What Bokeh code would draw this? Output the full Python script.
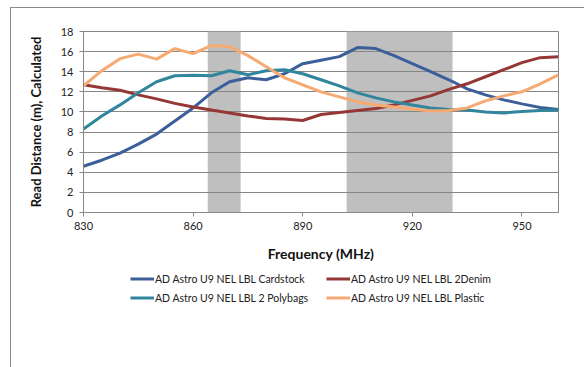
from bokeh.plotting import figure
from bokeh.models import Legend, LegendItem, FixedTicker, ColumnDataSource
from bokeh.layouts import column
from bokeh.embed import file_html
from bokeh.resources import INLINE

freq = [830, 835, 840, 845, 850, 855, 860, 865, 870, 875, 880, 885, 890, 895,
        900, 905, 910, 915, 920, 925, 930, 935, 940, 945, 950, 955, 960]

cardstock = [4.6, 5.2, 5.9, 6.8, 7.8, 9.1, 10.4, 11.9, 13.0, 13.4, 13.2, 13.8, 14.8, 15.15,
             15.5, 16.4, 16.3, 15.6, 14.8, 14.0, 13.2, 12.3, 11.7, 11.2, 10.8, 10.45, 10.25]
denim = [12.7, 12.4, 12.15, 11.7, 11.3, 10.85, 10.5, 10.2, 9.9, 9.6, 9.35, 9.3, 9.15, 9.75,
         9.95, 10.15, 10.35, 10.7, 11.15, 11.6, 12.25, 12.8, 13.5, 14.2, 14.9, 15.4, 15.5]
polybags = [8.3, 9.6, 10.7, 11.9, 13.0, 13.6, 13.65, 13.6, 14.1, 13.7, 14.1, 14.2, 13.8, 13.2,
            12.6, 11.9, 11.4, 11.0, 10.7, 10.4, 10.25, 10.2, 10.0, 9.9, 10.05, 10.15, 10.2]
plastic = [12.6, 14.1, 15.3, 15.75, 15.25, 16.3, 15.8, 16.6, 16.5, 15.6, 14.5, 13.4, 12.7, 12.0,
           11.5, 11.0, 10.7, 10.5, 10.3, 10.1, 10.15, 10.4, 11.1, 11.6, 12.0, 12.8, 13.7]

series_names = ["AD Astro U9 NEL LBL Cardstock", "AD Astro U9 NEL LBL 2Denim",
                "AD Astro U9 NEL LBL 2 Polybags", "AD Astro U9 NEL LBL Plastic"]
series_colors = ["#3C5F9A", "#953735", "#31859C", "#F7A972"]

band_start = [864, 902]
band_end = [873, 931]

x_ticks = [830, 860, 890, 920, 950]
y_ticks = [0, 2, 4, 6, 8, 10, 12, 14, 16, 18]

FONT = "Lato"
GRID = "#878787"
series = [cardstock, denim, polybags, plastic]

# ---------------- main chart ----------------
p = figure(width=573, height=260, x_range=(830, 960), y_range=(0, 18),
           output_backend="svg", toolbar_location=None,
           min_border_left=72, min_border_right=26, min_border_top=23, min_border_bottom=56)

p.background_fill_color = "white"
p.border_fill_color = "white"
p.outline_line_color = GRID
p.outline_line_width = 1

# shaded bands (below grid)
p.quad(left=band_start, right=band_end, bottom=0, top=18, fill_color="#BFBFBF",
       line_color=None, level="image")

p.xgrid.visible = False
p.ygrid.grid_line_color = GRID
p.ygrid.grid_line_width = 1
p.ygrid.ticker = FixedTicker(ticks=y_ticks)

p.xaxis.ticker = FixedTicker(ticks=x_ticks)
p.yaxis.ticker = FixedTicker(ticks=y_ticks)
for ax in (p.xaxis, p.yaxis):
    ax.axis_line_color = GRID
    ax.major_tick_line_color = GRID
    ax.minor_tick_line_color = None
    ax.major_tick_in = 0
    ax.major_tick_out = 4
    ax.major_label_text_font = FONT
    ax.major_label_text_font_size = "11px"
    ax.major_label_text_color = "#222222"
    ax.axis_label_text_font = FONT
    ax.axis_label_text_font_style = "bold"
    ax.axis_label_text_color = "#111111"

p.xaxis.axis_label = "Frequency (MHz)"
p.xaxis.axis_label_text_font_size = "14px"
p.xaxis.major_label_standoff = 5
p.xaxis.axis_label_standoff = 12
p.yaxis.axis_label = "Read Distance (m), Calculated"
p.yaxis.axis_label_text_font_size = "13px"
p.yaxis.major_label_standoff = 6
p.yaxis.axis_label_standoff = 14

for ys, c in zip(series, series_colors):
    src = ColumnDataSource(dict(x=freq, y=ys))
    p.line("x", "y", source=src, line_color=c, line_width=3, line_join="round")

# ---------------- legend strip (frame aligned with the chart above) ----------------
p2 = figure(width=573, height=99, x_range=(0, 1), y_range=(0, 1),
            output_backend="svg", toolbar_location=None,
            x_axis_location=None, y_axis_location=None,
            min_border=0, min_border_left=0, min_border_right=0,
            min_border_top=0, min_border_bottom=0)
p2.outline_line_color = None
p2.grid.visible = False
p2.background_fill_color = "white"
p2.border_fill_color = "white"

# same series, outside this strip's range: only their legend swatches show
swatches = []
for ys, c in zip(series, series_colors):
    swatches.append(p2.line(x=freq, y=ys, line_color=c, line_width=3))

def make_legend(idx, loc):
    return Legend(items=[LegendItem(label=series_names[i], renderers=[swatches[i]]) for i in idx],
                  location=loc, orientation="vertical",
                  padding=0, margin=0, spacing=0,
                  label_height=19, glyph_height=19, glyph_width=24, label_standoff=1,
                  border_line_alpha=0, background_fill_alpha=0,
                  label_text_font=FONT, label_text_font_size="10.5px", label_text_color="#222222")

p2.add_layout(make_legend([0, 2], (47, 60)), "center")
p2.add_layout(make_legend([1, 3], (243, 60)), "center")

layout = column(p, p2, spacing=0,
                styles={"margin-left": "10px", "margin-top": "7px",
                        "border-left": "1px solid #8a8a8a", "border-top": "1px solid #8a8a8a"})

open("out.html", "w").write(file_html(layout, INLINE))
